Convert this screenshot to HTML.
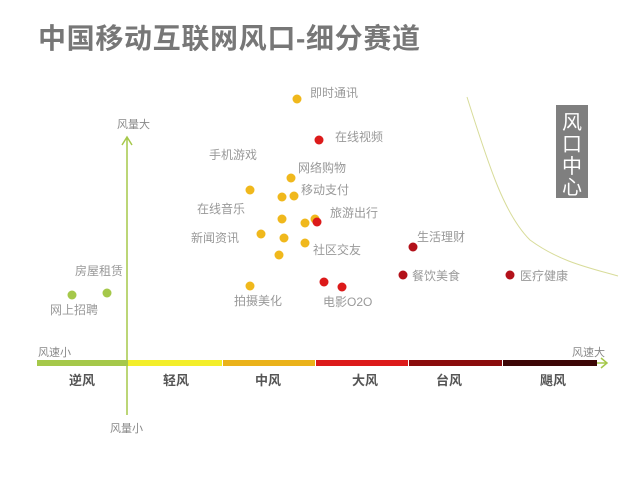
<!DOCTYPE html>
<html><head><meta charset="utf-8"><style>
body{margin:0;background:#fff;}
svg text{font-family:"Liberation Sans","Noto Sans CJK SC",sans-serif;}
</style></head><body>
<svg width="640" height="480" xmlns="http://www.w3.org/2000/svg">
<rect width="640" height="480" fill="#fff"/>
<text x="38" y="48" font-size="28" font-weight="bold" fill="#777" textLength="382" lengthAdjust="spacing">中国移动互联网风口-细分赛道</text>
<path d="M467,97 C490,170 505,215 530,240 C560,262 590,268 618,276" fill="none" stroke="#d8dc9a" stroke-width="1"/>
<rect x="556" y="105" width="32" height="93" fill="#7f7f7f"/>
<g fill="#fff" font-size="20" text-anchor="middle"><text x="572" y="129">风</text><text x="572" y="151">口</text><text x="572" y="173">中</text><text x="572" y="194">心</text></g>
<rect x="37" y="360" width="91" height="6" fill="#a5c84a"/>
<rect x="128" y="360" width="94" height="6" fill="#f3ee2a"/>
<rect x="223" y="360" width="92" height="6" fill="#eab21a"/>
<rect x="316" y="360" width="92" height="6" fill="#dc1a1a"/>
<rect x="409" y="360" width="93" height="6" fill="#8a0c0c"/>
<rect x="503" y="360" width="94" height="6" fill="#3d0606"/>
<path d="M597,363 H607 M601,358 L607,363 L601,368" stroke="#a5c84a" stroke-width="1.5" fill="none"/>
<path d="M127,415 V137 M122,145 L127,137 L132,145" stroke="#a5c84a" stroke-width="1.5" fill="none"/>
<g fill="#555" font-size="13" font-weight="bold" text-anchor="middle">
<text x="82" y="385">逆风</text><text x="176" y="385">轻风</text><text x="268" y="385">中风</text><text x="365" y="385">大风</text><text x="449" y="385">台风</text><text x="553" y="385">飓风</text></g>
<g fill="#888" font-size="11">
<text x="38" y="356">风速小</text><text x="572" y="356">风速大</text>
<text x="117" y="128">风量大</text><text x="110" y="432">风量小</text></g>
<g fill="#f0b81c">
<circle cx="297" cy="99" r="4.5"/><circle cx="291" cy="178" r="4.5"/><circle cx="250" cy="190" r="4.5"/>
<circle cx="282" cy="197" r="4.5"/><circle cx="294" cy="196" r="4.5"/><circle cx="282" cy="219" r="4.5"/>
<circle cx="305" cy="223" r="4.5"/><circle cx="315" cy="219" r="4.5"/><circle cx="261" cy="234" r="4.5"/>
<circle cx="284" cy="238" r="4.5"/><circle cx="305" cy="243" r="4.5"/><circle cx="279" cy="255" r="4.5"/>
<circle cx="250" cy="286" r="4.5"/></g>
<g fill="#dc1a1a"><circle cx="319" cy="140" r="4.5"/><circle cx="317" cy="222" r="4.5"/><circle cx="324" cy="282" r="4.5"/><circle cx="342" cy="287" r="4.5"/></g>
<g fill="#b3111a"><circle cx="413" cy="247" r="4.5"/><circle cx="403" cy="275" r="4.5"/><circle cx="510" cy="275" r="4.5"/></g>
<g fill="#a5c84a"><circle cx="72" cy="295" r="4.5"/><circle cx="107" cy="293" r="4.5"/></g>
<g fill="#999" font-size="12">
<text x="310" y="97">即时通讯</text><text x="335" y="141">在线视频</text><text x="209" y="159">手机游戏</text>
<text x="298" y="172">网络购物</text><text x="301" y="194">移动支付</text><text x="197" y="213">在线音乐</text>
<text x="330" y="217">旅游出行</text><text x="191" y="242">新闻资讯</text><text x="313" y="254">社区交友</text>
<text x="417" y="241">生活理财</text><text x="412" y="280">餐饮美食</text><text x="520" y="280">医疗健康</text>
<text x="234" y="305">拍摄美化</text><text x="323" y="306">电影O2O</text>
<text x="75" y="275">房屋租赁</text><text x="50" y="314">网上招聘</text></g>
</svg>
</body></html>
